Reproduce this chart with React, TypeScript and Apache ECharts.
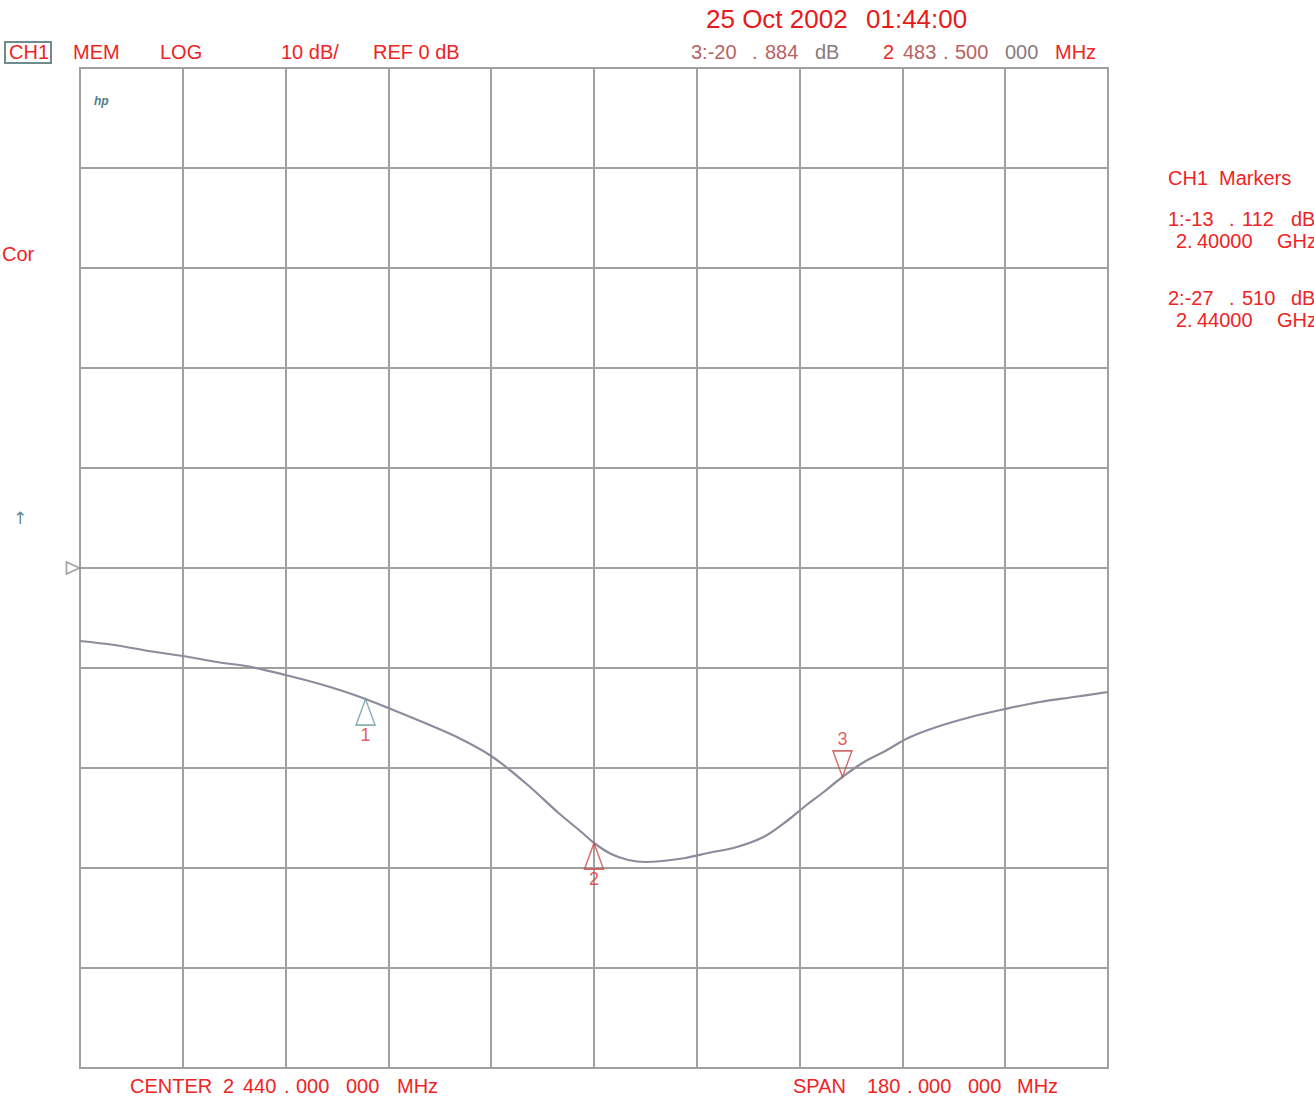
import React, { useEffect, useRef } from "react";
import * as echarts from "echarts";

// ---- data ----
const CENTER_MHZ = 2440;
const SPAN_MHZ = 180;
const REF_DB = 0;
const SCALE_DB_PER_DIV = 10;
const DIVS = 10;

const FREQ_MHZ = [2350, 2356, 2362, 2368, 2374, 2380, 2386, 2392, 2396, 2400, 2404, 2410, 2416, 2422, 2428, 2434, 2438, 2440, 2443, 2446, 2449, 2452, 2456, 2460, 2465, 2470, 2474, 2477, 2480, 2483.5, 2487, 2491, 2495, 2500, 2506, 2512, 2518, 2524, 2530];
const TRACE_DB = [-7.3, -7.7, -8.3, -8.8, -9.4, -9.9, -10.7, -11.6, -12.3, -13.1, -14.0, -15.4, -16.9, -18.8, -21.5, -24.6, -26.5, -27.5, -28.6, -29.2, -29.4, -29.3, -29.0, -28.5, -27.9, -26.8, -25.2, -23.8, -22.5, -20.9, -19.5, -18.3, -17.0, -15.9, -14.9, -14.1, -13.4, -12.9, -12.4];

const MARKER_IDS = ["1", "2", "3"];
const MARKER_MHZ = [2400, 2440, 2483.5];
const MARKER_DB = [-13.112, -27.51, -20.884];
const MARKER_UP = [true, true, false];
const MARKER_COLORS = ["#6a9ea0", "#cc4646", "#c44848"];

const DATE_TEXT = "25 Oct 2002";
const TIME_TEXT = "01:44:00";

// ---- helpers ----
const START_MHZ = CENTER_MHZ - SPAN_MHZ / 2;
const RED = "#ee2424";
const MUTED = "#b86262";
const FONT = "'Liberation Sans', Arial, sans-serif";

function splitDb(v: number) {
  const s = v.toFixed(3);
  const [i, f] = s.split(".");
  return [i, f];
}
function mhzGroups(v: number) {
  const whole = Math.floor(v);
  const frac = Math.round((v - whole) * 1e6).toString().padStart(6, "0");
  const w = whole.toString();
  const head = w.length > 3 ? w.slice(0, w.length - 3) : "";
  const tail = w.length > 3 ? w.slice(w.length - 3) : w;
  return [head, tail, frac.slice(0, 3), frac.slice(3)];
}

function txt(text: string, x: number, y: number, opts: any = {}) {
  return {
    type: "text",
    x,
    y,
    silent: true,
    style: {
      text,
      fill: opts.fill || RED,
      font: `${opts.italic ? "italic " : ""}${opts.bold ? "bold " : ""}${opts.size || 20}px ${opts.family || FONT}`,
      textVerticalAlign: "middle",
      textAlign: opts.align || "left",
    },
  };
}

export default function App() {
  const ref = useRef<HTMLDivElement>(null);
  useEffect(() => {
    if (!ref.current) return;
    const chart = echarts.init(ref.current, null, { renderer: "svg" });

    const trace = FREQ_MHZ.map((f, i) => [f - START_MHZ, TRACE_DB[i]]);
    const markers = MARKER_MHZ.map((f, i) => ({
      value: [f - START_MHZ, MARKER_DB[i]],
      symbolRotate: MARKER_UP[i] ? 0 : 180,
      symbolOffset: MARKER_UP[i] ? [0, 13] : [0, -13],
      itemStyle: { color: "rgba(0,0,0,0)", borderColor: MARKER_COLORS[i], borderWidth: 1.6 },
      label: {
        show: true,
        formatter: MARKER_IDS[i],
        position: "inside",
        offset: MARKER_UP[i] ? [0, 23] : [0, -25],
        color: "#e03030",
        fontSize: 18,
        fontFamily: FONT,
      },
    }));

    const m3 = 2;
    const [m3i, m3f] = splitDb(MARKER_DB[m3]);
    const g3 = mhzGroups(MARKER_MHZ[m3]);
    const gc = mhzGroups(CENTER_MHZ);
    const gs = mhzGroups(SPAN_MHZ);

    const graphics: any[] = [
      txt(DATE_TEXT, 706, 19, { size: 26, fill: "#e61a1a" }),
      txt(TIME_TEXT, 866, 19, { size: 26, fill: "#e61a1a" }),
      {
        type: "rect",
        silent: true,
        shape: { x: 5, y: 42, width: 46, height: 21 },
        style: { fill: "none", stroke: "#6e8c8e", lineWidth: 2 },
      },
      txt("CH1", 9, 52),
      txt("MEM", 73, 52),
      txt("LOG", 160, 52),
      txt(`${SCALE_DB_PER_DIV} dB/`, 281, 52),
      txt(`REF ${REF_DB} dB`, 373, 52),
      txt(`3:${m3i}`, 691, 52, { fill: MUTED }),
      txt(".", 752, 52, { fill: MUTED }),
      txt(m3f, 765, 52, { fill: MUTED }),
      txt("dB", 815, 52, { fill: "#8a7a80" }),
      txt(g3[0], 883, 52),
      txt(g3[1], 903, 52, { fill: MUTED }),
      txt(".", 943, 52, { fill: MUTED }),
      txt(g3[2], 955, 52, { fill: MUTED }),
      txt(g3[3], 1005, 52, { fill: "#8a7a80" }),
      txt("MHz", 1055, 52),
      // bottom
      txt("CENTER", 130, 1086),
      txt(gc[0], 223, 1086),
      txt(gc[1], 243, 1086),
      txt(".", 284, 1086),
      txt(gc[2], 296, 1086),
      txt(gc[3], 346, 1086),
      txt("MHz", 397, 1086),
      txt("SPAN", 793, 1086),
      txt(gs[1], 867, 1086),
      txt(".", 907, 1086),
      txt(gs[2], 918, 1086),
      txt(gs[3], 968, 1086),
      txt("MHz", 1017, 1086),
      // left
      txt("Cor", 2, 254),
      txt("\u2191", 20, 518, { size: 17, fill: "#5f8e98", align: "center", family: "'DejaVu Sans', sans-serif" }),
      txt("hp", 94, 101, { size: 12, italic: true, bold: true, fill: "#4f7e8a" }),
      // right panel
      txt("CH1", 1168, 178),
      txt("Markers", 1219, 178),
    ];
    const rowY = [[219, 241], [298, 320]];
    [0, 1].forEach((k) => {
      const [ii, ff] = splitDb(MARKER_DB[k]);
      const ghz = (MARKER_MHZ[k] / 1000).toFixed(5).split(".");
      graphics.push(
        txt(`${MARKER_IDS[k]}:${ii}`, 1168, rowY[k][0]),
        txt(".", 1229, rowY[k][0]),
        txt(ff, 1242, rowY[k][0]),
        txt("dB", 1291, rowY[k][0]),
        txt(`${ghz[0]}.`, 1176, rowY[k][1]),
        txt(ghz[1], 1197, rowY[k][1]),
        txt("GHz", 1277, rowY[k][1])
      );
    });

    const gridLine = { show: true, lineStyle: { color: "#a0a0a0", width: 2 } };
    const half = (SCALE_DB_PER_DIV * DIVS) / 2;

    chart.setOption({
      animation: false,
      backgroundColor: "#ffffff",
      grid: {
        left: 80,
        top: 68,
        width: 1028,
        height: 1000,
        show: true,
        borderColor: "#9a9a9a",
        borderWidth: 2,
        containLabel: false,
      },
      xAxis: {
        type: "value",
        min: 0,
        max: SPAN_MHZ,
        interval: SPAN_MHZ / DIVS,
        axisLine: { show: false },
        axisTick: { show: false },
        axisLabel: { show: false },
        splitLine: gridLine,
      },
      yAxis: {
        type: "value",
        min: REF_DB - half,
        max: REF_DB + half,
        interval: SCALE_DB_PER_DIV,
        axisLine: { show: false },
        axisTick: { show: false },
        axisLabel: { show: false },
        splitLine: gridLine,
      },
      series: [
        {
          type: "line",
          data: trace,
          smooth: 0.35,
          showSymbol: false,
          lineStyle: { color: "#8c8c9c", width: 2.2 },
          z: 3,
        },
        {
          type: "scatter",
          data: markers,
          symbol: "triangle",
          symbolSize: [19, 26],
          clip: false,
          z: 4,
        },
        {
          type: "scatter",
          data: [[0, REF_DB]],
          symbol: "triangle",
          symbolSize: [12, 13],
          symbolRotate: -90,
          symbolOffset: [-7, 0],
          itemStyle: { color: "rgba(0,0,0,0)", borderColor: "#8a8a8a", borderWidth: 1.6 },
          clip: false,
          z: 4,
        },
      ],
      graphic: graphics,
    });
    return () => chart.dispose();
  }, []);
  return (
    <div
      ref={ref}
      style={{ position: "fixed", left: 0, top: 0, width: 1314, height: 1104, background: "#fff" }}
    />
  );
}
